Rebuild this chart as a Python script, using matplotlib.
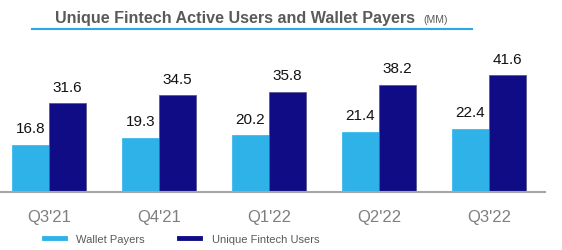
import numpy as np
import matplotlib
matplotlib.use("Agg")
import matplotlib.pyplot as plt
from matplotlib.lines import Line2D

# ------------------------------------------------------
# Data
quarters = ["Q3'21", "Q4'21", "Q1'22", "Q2'22", "Q3'22"]
wallet_payers = [16.8, 19.3, 20.2, 21.4, 22.4]
fintech_users = [31.6, 34.5, 35.8, 38.2, 41.6]

light = "#2EB2E8"
dark = "#0F0C85"
grey = "#7F7F7F"

plt.rcParams["font.family"] = ["Liberation Sans", "DejaVu Sans"]

fig = plt.figure(figsize=(5.62, 2.51), dpi=100)
# axes: x from 0 to 545 px, baseline at y=193, top at y=40
ax = fig.add_axes([0.0, 58 / 251, 545 / 562, 153 / 251])

x = np.arange(len(quarters))
w = 0.34
b1 = ax.bar(x - w / 2, wallet_payers, w, color=light, edgecolor=light, linewidth=0.5)
b2 = ax.bar(x + w / 2, fintech_users, w, color=dark, edgecolor="#5A5A8C", linewidth=0.6)

for rect, v in zip(list(b1) + list(b2), wallet_payers + fintech_users):
    ax.text(rect.get_x() + rect.get_width() / 2, v + 3.5, f"{v}",
            ha="center", va="bottom", fontsize=11, color="#111111")

ax.set_xlim(-0.445, len(quarters) - 1 + 0.51)
ax.set_ylim(0, 54.6)
ax.set_xticks(x)
ax.set_xticklabels(quarters, fontsize=12, color=grey)
ax.tick_params(axis="x", length=0, pad=12)
ax.set_yticks([])
for s in ["top", "right", "left"]:
    ax.spines[s].set_visible(False)
ax.spines["bottom"].set_color("#A6A6A6")
ax.spines["bottom"].set_linewidth(1.5)

# Title with underline
fig.text(55 / 562, 1 - 23 / 251, "Unique Fintech Active Users and Wallet Payers",
         fontsize=11.6, fontweight="bold", color="#5A5A5A", ha="left", va="baseline")
fig.text(423 / 562, 1 - 23 / 251, "(MM)", fontsize=7.5, color="#5A5A5A",
         ha="left", va="baseline")
fig.add_artist(Line2D([32 / 562, 472 / 562], [1 - 30 / 251, 1 - 30 / 251],
                      color="#29ABE2", lw=1.5, transform=fig.transFigure))

# Legend
handles = [Line2D([], [], color=light, lw=3.5),
           Line2D([], [], color=dark, lw=3.5)]
fig.legend(handles, ["Wallet Payers", "Unique Fintech Users"], loc="center left",
           bbox_to_anchor=(34 / 562, 1 - 240 / 251), ncol=2, frameon=False,
           fontsize=8, labelcolor="#5A5A5A", handlelength=1.9, handletextpad=1.0,
           columnspacing=3.1)

fig.savefig("out.png", dpi=100)
